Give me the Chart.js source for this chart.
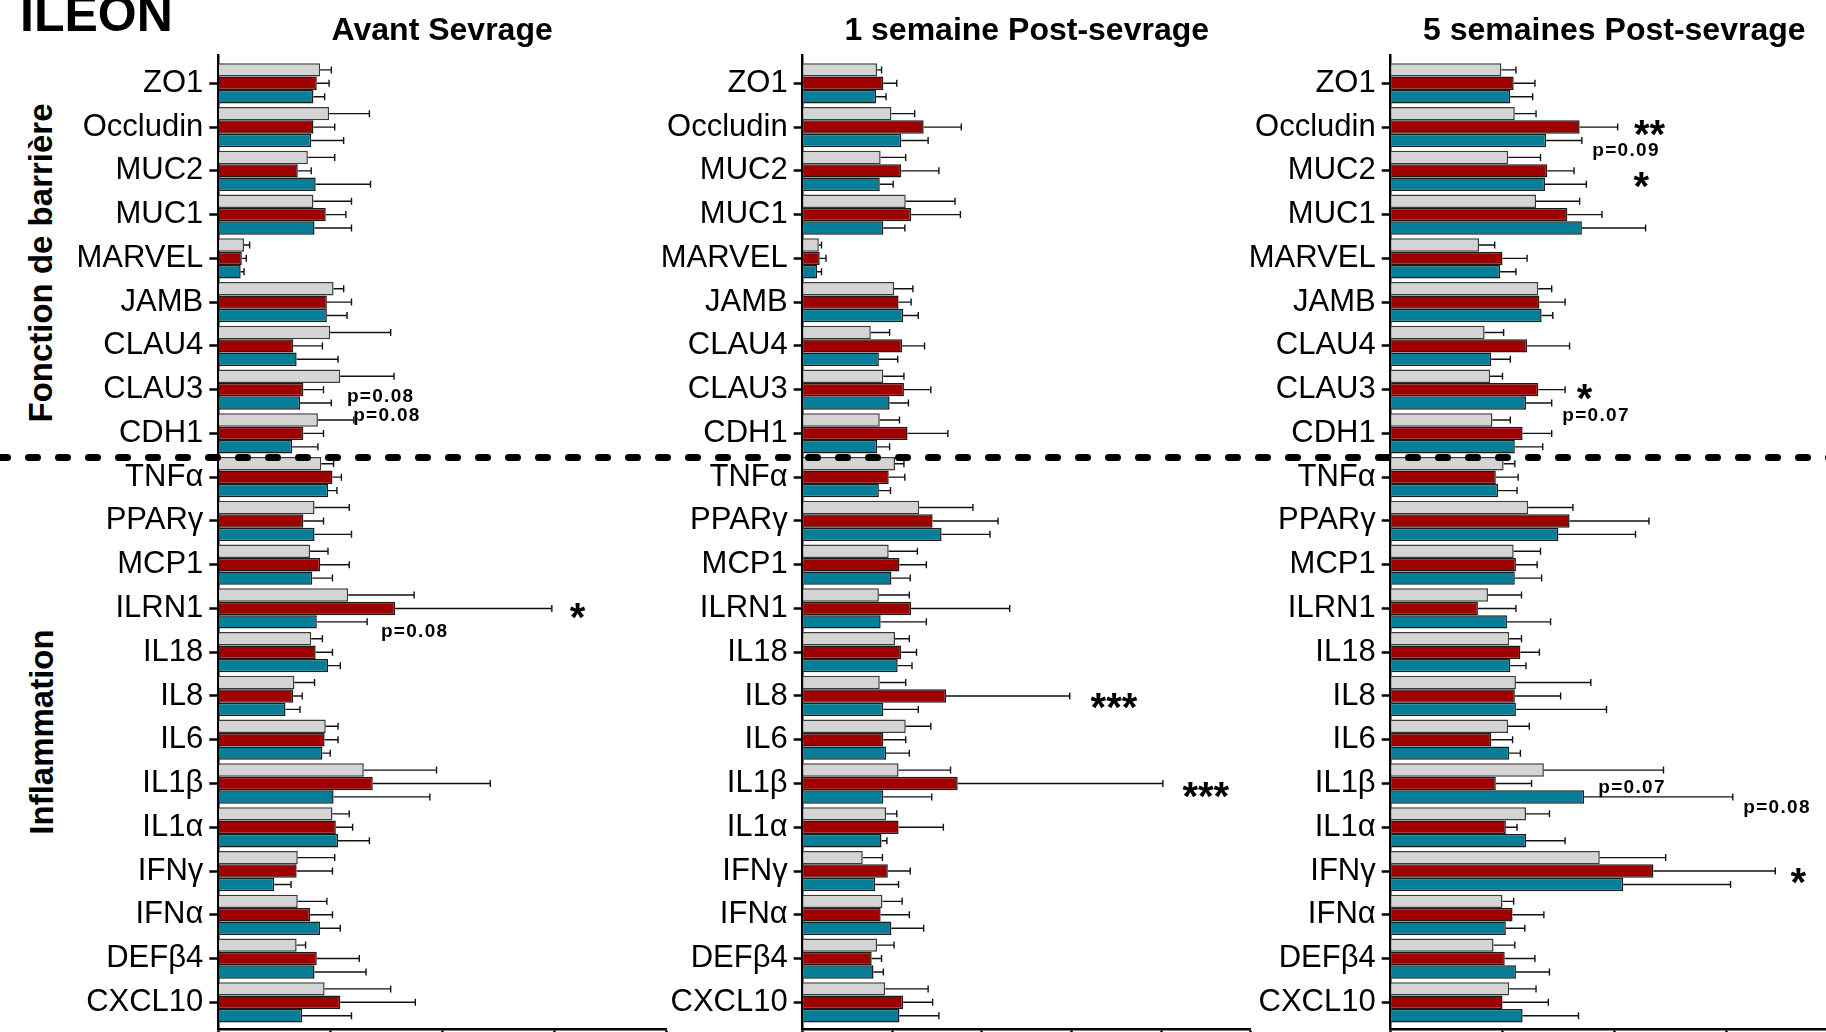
<!DOCTYPE html>
<html>
<head>
<meta charset="utf-8">
<script src="https://cdn.jsdelivr.net/npm/chart.js@4.4.1/dist/chart.umd.min.js"></script>
<style>
  html, body { margin: 0; width: 1826px; height: 1032px; overflow: hidden; background: #fff; }
  canvas { position: absolute; left: 0; top: 0; }
  .txt { position: absolute; font-family: "Liberation Sans", Arial, sans-serif; font-weight: bold; color: #000; white-space: nowrap; }
  #ileon { left: 20px; top: -11px; font-size: 50px; line-height: 50px; }
  .grp { font-size: 33px; line-height: 33px; transform: translate(-50%, -50%) rotate(-90deg); }
</style>
</head>
<body>
<div id="ileon" class="txt">ILEON</div>
<div class="txt grp" style="left:40px; top:263px;">Fonction de barrière</div>
<div class="txt grp" style="left:41px; top:732px;">Inflammation</div>
<canvas id="c1" width="1850" height="1032"></canvas>
<canvas id="c2" width="1850" height="1032"></canvas>
<canvas id="c3" width="1850" height="1032"></canvas>
<script>
const labels = ['ZO1', 'Occludin', 'MUC2', 'MUC1', 'MARVEL', 'JAMB', 'CLAU4', 'CLAU3', 'CDH1',
  'TNFα', 'PPARγ', 'MCP1', 'ILRN1', 'IL18', 'IL8', 'IL6', 'IL1β', 'IL1α', 'IFNγ', 'IFNα', 'DEFβ4', 'CXCL10'];

// Avant Sevrage
const avantGris     = [0.91, 0.99, 0.80, 0.85, 0.23, 1.03, 1.00, 1.09, 0.89, 0.92, 0.86, 0.82, 1.16, 0.83, 0.68, 0.96, 1.30, 1.02, 0.71, 0.71, 0.70, 0.95];
const avantGrisErr  = [0.10, 0.36, 0.24, 0.34, 0.05, 0.09, 0.54, 0.48, 0.32, 0.11, 0.31, 0.16, 0.59, 0.10, 0.18, 0.11, 0.65, 0.15, 0.33, 0.26, 0.08, 0.59];
const avantRouge    = [0.88, 0.85, 0.71, 0.96, 0.21, 0.97, 0.67, 0.76, 0.76, 1.02, 0.76, 0.91, 1.58, 0.87, 0.67, 0.95, 1.38, 1.05, 0.70, 0.82, 0.88, 1.09];
const avantRougeErr = [0.11, 0.19, 0.12, 0.18, 0.04, 0.22, 0.26, 0.18, 0.18, 0.08, 0.18, 0.26, 1.40, 0.15, 0.08, 0.12, 1.05, 0.15, 0.32, 0.20, 0.38, 0.67];
const avantBleu     = [0.85, 0.83, 0.87, 0.86, 0.20, 0.97, 0.70, 0.73, 0.66, 0.98, 0.86, 0.84, 0.88, 0.98, 0.60, 0.93, 1.03, 1.07, 0.50, 0.91, 0.86, 0.75];
const avantBleuErr  = [0.10, 0.29, 0.49, 0.33, 0.03, 0.18, 0.37, 0.28, 0.23, 0.08, 0.33, 0.18, 0.45, 0.11, 0.13, 0.07, 0.86, 0.28, 0.15, 0.18, 0.46, 0.44];

// 1 semaine Post-sevrage
const sem1Gris      = [0.83, 0.99, 0.87, 1.15, 0.18, 1.02, 0.76, 0.90, 0.86, 1.03, 1.30, 0.96, 0.85, 1.03, 0.86, 1.15, 1.07, 0.93, 0.67, 0.89, 0.83, 0.92];
const sem1GrisErr   = [0.05, 0.26, 0.28, 0.55, 0.03, 0.21, 0.21, 0.23, 0.22, 0.10, 0.60, 0.32, 0.34, 0.16, 0.29, 0.28, 0.58, 0.12, 0.22, 0.22, 0.19, 0.48];
const sem1Rouge     = [0.90, 1.35, 1.10, 1.21, 0.19, 1.07, 1.11, 1.13, 1.17, 0.96, 1.45, 1.08, 1.21, 1.10, 1.60, 0.90, 1.73, 1.07, 0.95, 0.87, 0.77, 1.12];
const sem1RougeErr  = [0.15, 0.42, 0.42, 0.55, 0.07, 0.14, 0.25, 0.30, 0.45, 0.18, 0.73, 0.30, 1.10, 0.17, 1.38, 0.25, 2.29, 0.50, 0.25, 0.32, 0.11, 0.33];
const sem1Bleu      = [0.82, 1.10, 0.86, 0.90, 0.16, 1.12, 0.85, 0.97, 0.83, 0.85, 1.55, 0.99, 0.87, 1.06, 0.90, 0.93, 0.90, 0.88, 0.81, 0.99, 0.79, 1.08];
const sem1BleuErr   = [0.11, 0.30, 0.15, 0.24, 0.05, 0.17, 0.21, 0.21, 0.14, 0.13, 0.54, 0.21, 0.51, 0.16, 0.39, 0.26, 0.54, 0.06, 0.26, 0.36, 0.11, 0.44];

// 5 semaines Post-sevrage
const sem5Gris      = [0.99, 1.11, 1.05, 1.30, 0.79, 1.32, 0.84, 0.89, 0.91, 1.01, 1.23, 1.10, 0.87, 1.06, 1.12, 1.05, 1.37, 1.21, 1.87, 1.00, 0.92, 1.06];
const sem5GrisErr   = [0.13, 0.19, 0.29, 0.39, 0.14, 0.12, 0.17, 0.11, 0.16, 0.10, 0.40, 0.24, 0.30, 0.11, 0.67, 0.19, 1.07, 0.21, 0.59, 0.10, 0.19, 0.24];
const sem5Rouge     = [1.10, 1.69, 1.40, 1.58, 1.00, 1.33, 1.22, 1.32, 1.18, 0.94, 1.60, 1.12, 0.78, 1.16, 1.11, 0.90, 0.94, 1.03, 2.35, 1.09, 1.02, 1.00];
const sem5RougeErr  = [0.19, 0.34, 0.24, 0.31, 0.22, 0.23, 0.38, 0.24, 0.26, 0.20, 0.71, 0.19, 0.34, 0.17, 0.41, 0.19, 0.32, 0.10, 1.09, 0.28, 0.27, 0.41];
const sem5Bleu      = [1.07, 1.39, 1.38, 1.71, 0.98, 1.35, 0.90, 1.21, 1.11, 0.96, 1.50, 1.11, 1.04, 1.07, 1.12, 1.06, 1.73, 1.21, 2.08, 1.03, 1.12, 1.18];
const sem5BleuErr   = [0.20, 0.32, 0.37, 0.57, 0.14, 0.10, 0.17, 0.23, 0.25, 0.17, 0.69, 0.24, 0.39, 0.14, 0.81, 0.10, 1.33, 0.35, 0.96, 0.17, 0.30, 0.50];

// significance marks: x in axis units (centre for stars, left for p-values), y in category units
const notesAvant = [
  { t: 'p=0.08', x: 1.149, y: 7.12 },
  { t: 'p=0.08', x: 1.205, y: 7.56 },
  { t: '*',      x: 3.21,  y: 12.06 },
  { t: 'p=0.08', x: 1.453, y: 12.50 }
];
const notesSem1 = [
  { t: '***', x: 3.474, y: 14.13 },
  { t: '***', x: 4.499, y: 16.17 }
];
const notesSem5 = [
  { t: '**',     x: 2.315, y: 1.03 },
  { t: 'p=0.09', x: 1.803, y: 1.51 },
  { t: '*',      x: 2.242, y: 2.23 },
  { t: '*',      x: 1.733, y: 7.07 },
  { t: 'p=0.07', x: 1.535, y: 7.56 },
  { t: 'p=0.07', x: 1.857, y: 16.07 },
  { t: 'p=0.08', x: 3.154, y: 16.53 },
  { t: '*',      x: 3.646, y: 18.13 }
];

const FONT = '"Liberation Sans", Arial, sans-serif';
const colors = ['#d4d4d4', '#9e0000', '#077e98'];
const borders = ['#3a3a3a', '#1a1a1a', '#1a1a1a'];
const names = ['gris', 'rouge', 'bleu'];

const toPts = arr => arr.map((v, i) => ({ x: v, y: i }));

function makePanel(id, title, series, errs, xMax, axisW, padLeft, padRight, notes, withDash) {
  const ctx = document.getElementById(id).getContext('2d');

  const extras = {
    id: 'extras_' + id,
    afterDatasetsDraw(chart) {
      const c = chart.ctx;
      const xs = chart.scales.x;
      c.save();
      c.strokeStyle = '#111';
      c.lineWidth = 1.4;
      chart.data.datasets.forEach((ds, di) => {
        chart.getDatasetMeta(di).data.forEach((bar, i) => {
          const end = xs.getPixelForValue(series[di][i] + errs[di][i]);
          c.beginPath();
          c.moveTo(bar.x, bar.y);
          c.lineTo(end, bar.y);
          c.moveTo(end, bar.y - 3.5);
          c.lineTo(end, bar.y + 3.5);
          c.stroke();
        });
      });
      c.restore();
    },
    afterDraw(chart) {
      const c = chart.ctx;
      const xs = chart.scales.x, ys = chart.scales.y;
      c.save();
      c.fillStyle = '#000';
      notes.forEach(n => {
        const px = xs.getPixelForValue(n.x);
        const py = ys.getPixelForValue(n.y);
        if (n.t.startsWith('*')) {
          c.font = 'bold 40px ' + FONT;
          c.letterSpacing = '0px';
          c.textAlign = 'center';
          c.textBaseline = 'alphabetic';
          c.fillText(n.t, px, py + 19.5);
        } else {
          c.font = 'bold 19px ' + FONT;
          c.letterSpacing = '1.3px';
          c.textAlign = 'left';
          c.textBaseline = 'alphabetic';
          c.fillText(n.t, px, py + 6.8);
        }
      });
      if (withDash) {
        const yd = ys.getPixelForValue(8.55);
        c.strokeStyle = '#000';
        c.lineWidth = 7;
        c.lineCap = 'round';
        c.setLineDash([9, 21]);
        c.beginPath();
        c.moveTo(-1.5, yd);
        c.lineTo(1850, yd);
        c.stroke();
      }
      c.restore();
    }
  };

  return new Chart(ctx, {
    type: 'bar',
    data: {
      datasets: series.map((s, i) => ({
        label: names[i],
        data: toPts(s),
        backgroundColor: colors[i],
        borderColor: borders[i],
        borderWidth: 1.5,
        categoryPercentage: 0.92,
        barPercentage: 1
      }))
    },
    options: {
      indexAxis: 'y',
      responsive: false,
      animation: false,
      layout: { padding: { left: padLeft, right: padRight, top: 0, bottom: 0 } },
      scales: {
        x: {
          type: 'linear',
          min: 0,
          max: xMax,
          ticks: { stepSize: 1, display: false },
          grid: { drawOnChartArea: false, drawTicks: true, tickLength: 10, tickWidth: 2.5, color: '#000' },
          border: { display: true, color: '#000', width: 2.5 },
          afterFit: s => { s.height = 3; s.paddingLeft = 0; s.paddingRight = 0; }
        },
        y: {
          type: 'linear',
          reverse: true,
          offset: false,
          min: -0.647,
          max: 21.61,
          ticks: {
            stepSize: 1,
            autoSkip: false,
            includeBounds: false,
            padding: 6,
            color: '#000',
            font: { family: FONT, size: 31 },
            callback: v => labels[v] ?? ''
          },
          grid: { offset: false, drawOnChartArea: false, tickLength: 9, tickWidth: 2.5, color: '#000' },
          border: { color: '#000', width: 2.5 },
          afterFit: s => { s.width = axisW; s.paddingTop = 0; s.paddingBottom = 0; }
        }
      },
      plugins: {
        legend: { display: false },
        tooltip: { enabled: false },
        title: {
          display: true,
          text: title,
          fullSize: false,
          color: '#000',
          font: { family: FONT, size: 32, weight: 'bold' },
          padding: { top: 11.5, bottom: 5.1 }
        }
      }
    },
    plugins: [extras]
  });
}

makePanel('c1', 'Avant Sevrage',
  [avantGris, avantRouge, avantBleu], [avantGrisErr, avantRougeErr, avantBleuErr],
  4, 218.3, 0, 1850 - 666, notesAvant, false);
makePanel('c2', '1 semaine Post-sevrage',
  [sem1Gris, sem1Rouge, sem1Bleu], [sem1GrisErr, sem1RougeErr, sem1BleuErr],
  5, 200, 602.7, 1850 - 1250.7, notesSem1, false);
makePanel('c3', '5 semaines Post-sevrage',
  [sem5Gris, sem5Rouge, sem5Bleu], [sem5GrisErr, sem5RougeErr, sem5BleuErr],
  4, 200, 1190.7, 1850 - 1837.9, notesSem5, true);
</script>
</body>
</html>
